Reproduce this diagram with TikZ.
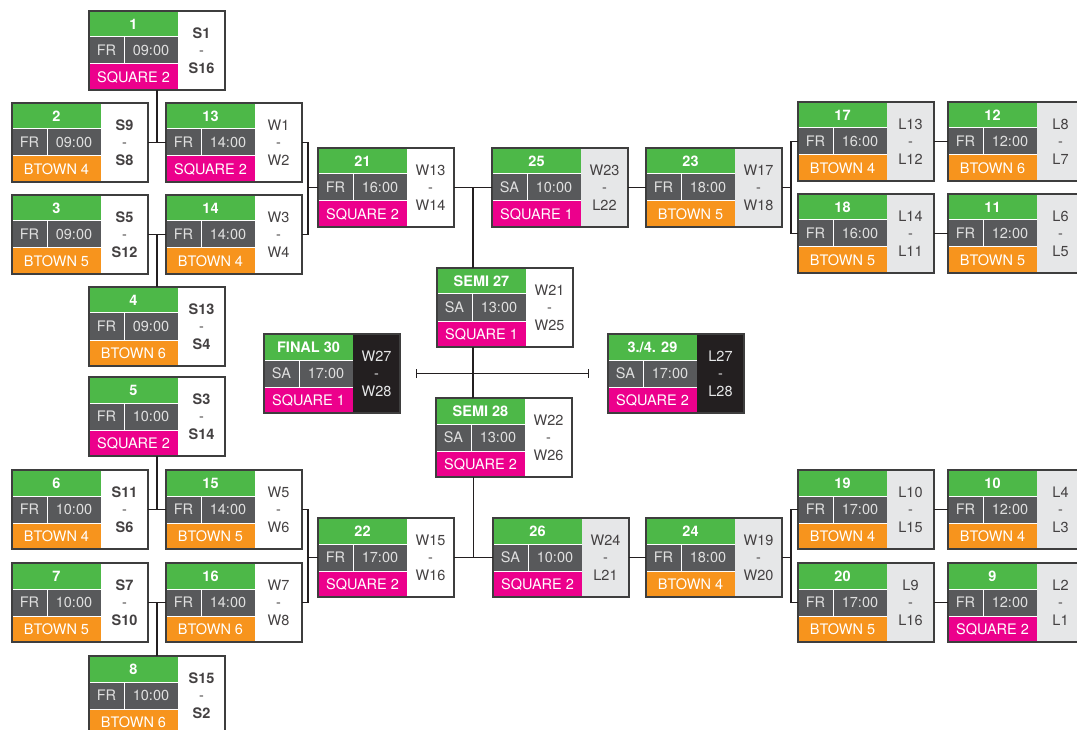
\documentclass[tikz,border=0pt]{standalone}
\usepackage{fontspec}
\setmainfont{TeX Gyre Heros}
\usetikzlibrary{positioning,arrows.meta}
\definecolor{pitch}{RGB}{77,184,72}
\definecolor{slate}{RGB}{88,89,91}
\definecolor{square}{RGB}{236,0,140}
\definecolor{btown}{RGB}{247,148,29}
\definecolor{mist}{RGB}{230,231,232}
\definecolor{ink}{RGB}{35,31,32}
\definecolor{rim}{RGB}{62,62,62}

\begin{document}
\begin{tikzpicture}[x=1pt, y=-1pt]
    \tikzset{
        cell/.style = {rectangle, inner sep=0pt, outer sep=0pt, draw=white, line width=1pt, text=white!88!black, font=\fontsize{14.5pt}{17pt}\selectfont},
        head/.style = {cell, fill=pitch, text=white, minimum width=89pt, minimum height=26pt, font=\fontsize{14.5pt}{17pt}\selectfont\bfseries},
        slot/.style = {cell, fill=slate, minimum height=27pt},
        venue/.style = {cell, text=white, minimum width=89pt, minimum height=26pt},
        side/.style = {rectangle, inner sep=0pt, outer sep=0pt, minimum width=47pt, minimum height=79pt, align=center, text=ink!85, font=\fontsize{14.5pt}{17.5pt}\selectfont},
        sidewhite/.style = {side, fill=white},
        sidegrey/.style = {side, fill=mist},
        sideblack/.style = {side, fill=ink, text=mist},
        matchframe/.style = {rectangle, draw=rim, line width=1.3pt, minimum width=136pt, minimum height=79pt, inner sep=0pt, outer sep=0pt},
        link/.style = {draw=ink, line width=1.5pt},
    }
    \newcommand{\matchbox}[9]{%
        \node[head, anchor=north west] (#1h) at (#2) {#3};
        \node[slot, minimum width=35pt, anchor=north west] (#1d) at (#1h.south west) {#4};
        \node[slot, minimum width=54pt, anchor=west] (#1t) at (#1d.east) {#5};
        \node[venue, fill=#6, anchor=north west] (#1v) at (#1d.south west) {#7};
        \node[#8, anchor=north west] (#1s) at (#1h.north east) {#9};
        \node[matchframe, anchor=north west] (#1) at (#2) {};
    }
    \path[fill=white, use as bounding box] (0,0) rectangle (1077,730);

    % first round, top
    \matchbox{m1}{89,11}{1}{FR}{09:00}{square}{SQUARE 2}{sidewhite}{\textbf{S1}\\-\\\textbf{S16}}
    \matchbox{m2}{12,103}{2}{FR}{09:00}{btown}{BTOWN 4}{sidewhite}{\textbf{S9}\\-\\\textbf{S8}}
    \matchbox{m3}{12,195}{3}{FR}{09:00}{btown}{BTOWN 5}{sidewhite}{\textbf{S5}\\-\\\textbf{S12}}
    \matchbox{m4}{89,287}{4}{FR}{09:00}{btown}{BTOWN 6}{sidewhite}{\textbf{S13}\\-\\\textbf{S4}}
    \matchbox{m13}{166,103}{13}{FR}{14:00}{square}{SQUARE 2}{sidewhite}{W1\\-\\W2}
    \matchbox{m14}{166,195}{14}{FR}{14:00}{btown}{BTOWN 4}{sidewhite}{W3\\-\\W4}
    \matchbox{m21}{318,148}{21}{FR}{16:00}{square}{SQUARE 2}{sidewhite}{W13\\-\\W14}
    \matchbox{m25}{492,148}{25}{SA}{10:00}{square}{SQUARE 1}{sidegrey}{W23\\-\\L22}
    \matchbox{m23}{646,148}{23}{FR}{18:00}{btown}{BTOWN 5}{sidegrey}{W17\\-\\W18}
    \matchbox{m17}{798,102}{17}{FR}{16:00}{btown}{BTOWN 4}{sidegrey}{L13\\-\\L12}
    \matchbox{m18}{798,194}{18}{FR}{16:00}{btown}{BTOWN 5}{sidegrey}{L14\\-\\L11}
    \matchbox{m12}{948,102}{12}{FR}{12:00}{btown}{BTOWN 6}{sidegrey}{L8\\-\\L7}
    \matchbox{m11}{948,194}{11}{FR}{12:00}{btown}{BTOWN 5}{sidegrey}{L6\\-\\L5}

    % finals
    \matchbox{m27}{437,268}{SEMI 27}{SA}{13:00}{square}{SQUARE 1}{sidewhite}{W21\\-\\W25}
    \matchbox{m28}{436,398}{SEMI 28}{SA}{13:00}{square}{SQUARE 2}{sidewhite}{W22\\-\\W26}
    \matchbox{m30}{264,334}{FINAL 30}{SA}{17:00}{square}{SQUARE 1}{sideblack}{W27\\-\\W28}
    \matchbox{m29}{608,334}{3./4. 29}{SA}{17:00}{square}{SQUARE 2}{sideblack}{L27\\-\\L28}

    % first round, bottom
    \matchbox{m5}{89,377}{5}{FR}{10:00}{square}{SQUARE 2}{sidewhite}{\textbf{S3}\\-\\\textbf{S14}}
    \matchbox{m6}{12,470}{6}{FR}{10:00}{btown}{BTOWN 4}{sidewhite}{\textbf{S11}\\-\\\textbf{S6}}
    \matchbox{m7}{12,563}{7}{FR}{10:00}{btown}{BTOWN 5}{sidewhite}{\textbf{S7}\\-\\\textbf{S10}}
    \matchbox{m8}{89,656}{8}{FR}{10:00}{btown}{BTOWN 6}{sidewhite}{\textbf{S15}\\-\\\textbf{S2}}
    \matchbox{m15}{166,470}{15}{FR}{14:00}{btown}{BTOWN 5}{sidewhite}{W5\\-\\W6}
    \matchbox{m16}{166,563}{16}{FR}{14:00}{btown}{BTOWN 6}{sidewhite}{W7\\-\\W8}
    \matchbox{m22}{318,518}{22}{FR}{17:00}{square}{SQUARE 2}{sidewhite}{W15\\-\\W16}
    \matchbox{m26}{493,518}{26}{SA}{10:00}{square}{SQUARE 2}{sidegrey}{W24\\-\\L21}
    \matchbox{m24}{646,518}{24}{FR}{18:00}{btown}{BTOWN 4}{sidegrey}{W19\\-\\W20}
    \matchbox{m19}{798,470}{19}{FR}{17:00}{btown}{BTOWN 4}{sidegrey}{L10\\-\\L15}
    \matchbox{m20}{798,563}{20}{FR}{17:00}{btown}{BTOWN 5}{sidegrey}{L9\\-\\L16}
    \matchbox{m10}{948,470}{10}{FR}{12:00}{btown}{BTOWN 4}{sidegrey}{L4\\-\\L3}
    \matchbox{m9}{948,563}{9}{FR}{12:00}{square}{SQUARE 2}{sidegrey}{L2\\-\\L1}

    % links, top half
    \draw[link] (m1.south) -- (m1.south |- m2.east);
    \draw[link] (m2.east) -- (m13.west);
    \draw[link] (m3.east) -- (m14.west);
    \draw[link] (m4.north) -- (m4.north |- m3.east);
    \coordinate[left=10pt of m21.west] (j21);
    \draw[link] (m13.east) -| (j21) |- (m14.east);
    \draw[link] (j21) -- (m21.west);
    \path (m21.east) -- (m25.west) coordinate[midway] (j27);
    \draw[link] (m21.east) -- (m25.west);
    \draw[link] (j27) -- (j27 |- m27.north);
    \draw[link] (m25.east) -- (m23.west);
    \coordinate[right=9pt of m23.east] (j23);
    \draw[link] (m23.east) -- (j23);
    \draw[link] (m17.west) -| (j23) |- (m18.west);
    \draw[link] (m17.east) -- (m12.west);
    \draw[link] (m18.east) -- (m11.west);

    % links, middle
    \draw[link] (j27 |- m27.south) -- (j27 |- m28.north);
    \coordinate[right=16pt of m30.east] (f30);
    \coordinate[left=19pt of m29.west] (f29);
    \draw[link, line width=1.2pt, {Bar[width=9pt]}-{Bar[width=9pt]}] (f30) -- (f29);

    % links, bottom half
    \draw[link] (m5.south) -- (m5.south |- m6.east);
    \draw[link] (m6.east) -- (m15.west);
    \draw[link] (m7.east) -- (m16.west);
    \draw[link] (m8.north) -- (m8.north |- m7.east);
    \coordinate[left=10pt of m22.west] (j22);
    \draw[link] (m15.east) -| (j22) |- (m16.east);
    \draw[link] (j22) -- (m22.west);
    \path (m22.east) -- (m26.west) coordinate[midway] (j28);
    \draw[link] (m22.east) -- (m26.west);
    \draw[link] (j28) -- (j28 |- m28.south);
    \draw[link] (m26.east) -- (m24.west);
    \coordinate[right=9pt of m24.east] (j24);
    \draw[link] (m24.east) -- (j24);
    \draw[link] (m19.west) -| (j24) |- (m20.west);
    \draw[link] (m19.east) -- (m10.west);
    \draw[link] (m20.east) -- (m9.west);
\end{tikzpicture}
\end{document}
